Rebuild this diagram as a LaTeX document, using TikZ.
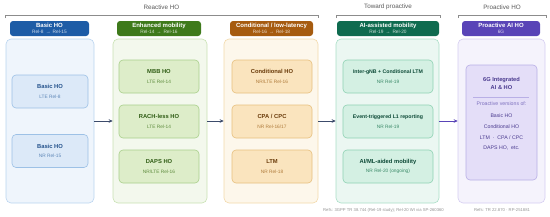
\documentclass[tikz,border=0pt]{standalone}
\usepackage{fontspec}
\setmainfont{Liberation Sans}
\usetikzlibrary{arrows.meta}
\definecolor{hA}{HTML}{1D5CA6}\definecolor{pA}{HTML}{EFF5FC}\definecolor{bA}{HTML}{B9D4EF}
\definecolor{xA}{HTML}{DCE9F8}\definecolor{yA}{HTML}{9DC1E6}\definecolor{tA}{HTML}{24528C}\definecolor{sA}{HTML}{5E87B8}
\definecolor{hB}{HTML}{3E7A1B}\definecolor{pB}{HTML}{F3F8ED}\definecolor{bB}{HTML}{C8E1B2}
\definecolor{xB}{HTML}{DDEDC9}\definecolor{yB}{HTML}{A9D08B}\definecolor{tB}{HTML}{2F5C14}\definecolor{sB}{HTML}{5E8C3E}
\definecolor{hC}{HTML}{A65B0F}\definecolor{pC}{HTML}{FDF7EB}\definecolor{bC}{HTML}{F2D9AA}
\definecolor{xC}{HTML}{FAE4BE}\definecolor{yC}{HTML}{E7C07F}\definecolor{tC}{HTML}{6A3B0A}\definecolor{sC}{HTML}{B07C3C}
\definecolor{hD}{HTML}{0F6B4F}\definecolor{pD}{HTML}{EBF7F2}\definecolor{bD}{HTML}{A9DEC6}
\definecolor{xD}{HTML}{D4F0E3}\definecolor{yD}{HTML}{8FD2B3}\definecolor{tD}{HTML}{0D4A37}\definecolor{sD}{HTML}{3B8A69}
\definecolor{hE}{HTML}{5944B7}\definecolor{pE}{HTML}{F5F3FC}\definecolor{bE}{HTML}{D5CDF1}
\definecolor{xE}{HTML}{E4DEF8}\definecolor{yE}{HTML}{B9AFE6}\definecolor{tE}{HTML}{4A3A8F}\definecolor{sE}{HTML}{7D70BE}
\definecolor{arrowc}{HTML}{3C4B6B}
\tikzset{
 hdr/.style={rounded corners=3pt, inner sep=0pt, align=center, text=white, minimum height=15pt, font=\fontsize{6}{6.6}\selectfont},
 panel/.style={rounded corners=5pt, draw, line width=0.6pt, minimum height=164pt, inner sep=0pt},
 hobox/.style={rounded corners=4pt, draw, line width=0.6pt, minimum height=33pt, align=center, inner sep=0pt, font=\fontsize{5.8}{9.5}\selectfont},
 arr/.style={-{Stealth[length=4pt,width=3.6pt]}, line width=0.8pt, draw=arrowc},
 brk/.style={draw=black!45, line width=0.6pt},
 grp/.style={text=black!65, font=\fontsize{6.3}{7}\selectfont},
 refs/.style={text=black!42, font=\fontsize{4.2}{5}\selectfont},
}
\begin{document}
\begin{tikzpicture}[x=1pt,y=-1pt]
\useasboundingbox (0,0) rectangle (550,217);
% group brackets
\draw[brk] (5,18) -- (5,15) -- (318,15) -- (318,18);
\draw[brk] (336,18) -- (336,15) -- (440,15) -- (440,18);
\draw[brk] (458,18) -- (458,15) -- (546,15) -- (546,18);
\node[grp] (gA) at (161.5,7) {Reactive HO};
\node[grp] (gB) at (388,7) {Toward proactive};
\node[grp] (gC) at (502,7) {Proactive HO};
% panels
\node[panel, fill=pA, draw=bA, minimum width=88pt] (p1) at (50,121) {};
\node[panel, fill=pB, draw=bB, minimum width=94pt] (p2) at (160,121) {};
\node[panel, fill=pC, draw=bC, minimum width=94pt] (p3) at (271,121) {};
\node[panel, fill=pD, draw=bD, minimum width=103pt] (p4) at (387.5,121) {};
\node[panel, fill=pE, draw=bE, minimum width=87pt] (p5) at (501.5,121) {};
% headers
\node[hdr, fill=hA, minimum width=79pt] (h1) at (49.5,28.5) {\textbf{Basic HO}\\{\fontsize{4.8}{5}\selectfont\color{white!78!hA}Rel-8 \,→\, Rel-15}};
\node[hdr, fill=hB, minimum width=84pt] (h2) at (159,28.5) {\textbf{Enhanced mobility}\\{\fontsize{4.8}{5}\selectfont\color{white!78!hB}Rel-14 \,→\, Rel-16}};
\node[hdr, fill=hC, minimum width=83pt] (h3) at (271.5,28.5) {\textbf{Conditional / low-latency}\\{\fontsize{4.8}{5}\selectfont\color{white!78!hC}Rel-16 \,→\, Rel-18}};
\node[hdr, fill=hD, minimum width=102pt] (h4) at (388,28.5) {\textbf{AI-assisted mobility}\\{\fontsize{4.8}{5}\selectfont\color{white!78!hD}Rel-19 \,→\, Rel-20}};
\node[hdr, fill=hE, minimum width=78pt] (h5) at (501,28.5) {\textbf{Proactive AI HO}\\{\fontsize{4.8}{5}\selectfont\color{white!78!hE}6G}};
% column 1
\node[hobox, fill=xA, draw=yA, minimum width=76pt, text=tA] (a1) at (50,91.5) {\textbf{Basic HO}\\{\fontsize{4.8}{5}\selectfont\color{sA}LTE Rel-8}};
\node[hobox, fill=xA, draw=yA, minimum width=76pt, text=tA] (a2) at (50,151) {\textbf{Basic HO}\\{\fontsize{4.8}{5}\selectfont\color{sA}NR Rel-15}};
% column 2
\node[hobox, fill=xB, draw=yB, minimum width=80pt, text=tB] (b1) at (159,76.5) {\textbf{MBB HO}\\{\fontsize{4.8}{5}\selectfont\color{sB}LTE Rel-14}};
\node[hobox, fill=xB, draw=yB, minimum width=80pt, text=tB] (b2) at (159,121.5) {\textbf{RACH-less HO}\\{\fontsize{4.8}{5}\selectfont\color{sB}LTE Rel-14}};
\node[hobox, fill=xB, draw=yB, minimum width=80pt, text=tB] (b3) at (159,166.5) {\textbf{DAPS HO}\\{\fontsize{4.8}{5}\selectfont\color{sB}NR/LTE Rel-16}};
% column 3
\node[hobox, fill=xC, draw=yC, minimum width=80pt, text=tC] (c1) at (272,76.5) {\textbf{Conditional HO}\\{\fontsize{4.8}{5}\selectfont\color{sC}NR/LTE Rel-16}};
\node[hobox, fill=xC, draw=yC, minimum width=80pt, text=tC] (c2) at (272,121.5) {\textbf{CPA / CPC}\\{\fontsize{4.8}{5}\selectfont\color{sC}NR Rel-16/17}};
\node[hobox, fill=xC, draw=yC, minimum width=80pt, text=tC] (c3) at (272,166.5) {\textbf{LTM}\\{\fontsize{4.8}{5}\selectfont\color{sC}NR Rel-18}};
% column 4
\node[hobox, fill=xD, draw=yD, minimum width=90pt, text=tD] (d1) at (388,76.5) {{\fontsize{5.2}{5}\bfseries Inter-gNB + Conditional LTM}\\{\fontsize{4.8}{5}\selectfont\color{sD}NR Rel-19}};
\node[hobox, fill=xD, draw=yD, minimum width=90pt, text=tD] (d2) at (388,121.5) {{\fontsize{5.2}{5}\bfseries Event-triggered L1 reporting}\\{\fontsize{4.8}{5}\selectfont\color{sD}NR Rel-19}};
\node[hobox, fill=xD, draw=yD, minimum width=90pt, text=tD] (d3) at (388,166.5) {\textbf{AI/ML-aided mobility}\\{\fontsize{4.8}{5}\selectfont\color{sD}NR Rel-20 (ongoing)}};
% column 5
\node[hobox, fill=xE, draw=yE, minimum width=71pt, minimum height=115pt] (e1) at (501.5,122.5) {};
\node[text=tE, align=center, inner sep=0pt, font=\fontsize{5.7}{8}\selectfont\bfseries] (e1t) at (501.5,83) {6G Integrated\\AI \& HO};
\draw[draw=yE, line width=0.5pt] (473,97) -- (529,97);
\node[text=tE, align=center, inner sep=0pt, font=\fontsize{5.2}{10.6}\selectfont] (e1l) at (501.5,126) {{\color{sE}Proactive versions of:}\\[1.8pt]Basic HO\\Conditional HO\\LTM \ · \ CPA / CPC\\DAPS HO, \ etc.};
% arrows
\draw[arr] (p1.east) -- (p2.west);
\draw[arr] (p2.east) -- (p3.west);
\draw[arr] (p3.east) -- (p4.west);
\draw[arr, draw=hE] (p4.east) -- (p5.west);
% refs
\node[refs] (r1) at (383.5,210) {Refs: 3GPP TR 38.744 (Rel-19 study); Rel-20 WI via SP-260360};
\node[refs] (r2) at (502,210) {Refs: TR 22.870 · RP-251881};
\end{tikzpicture}
\end{document}
